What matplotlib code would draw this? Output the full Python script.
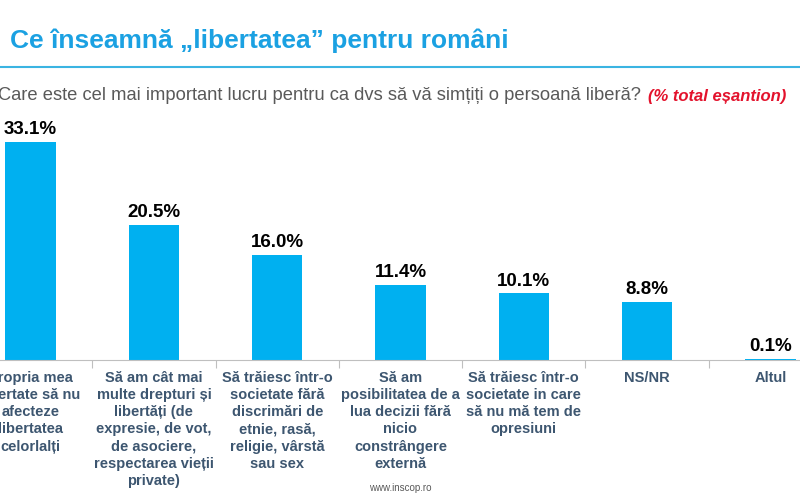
import matplotlib.pyplot as plt

plt.rcParams['font.family'] = ['Liberation Sans', 'DejaVu Sans']

categories = [
    'Propria mea\nlibertate să nu\nafecteze\nlibertatea\ncelorlalți',
    'Să am cât mai\nmulte drepturi și\nlibertăți (de\nexpresie, de vot,\nde asociere,\nrespectarea vieții\nprivate)',
    'Să trăiesc într-o\nsocietate fără\ndiscrimări de\netnie, rasă,\nreligie, vârstă\nsau sex',
    'Să am\nposibilitatea de a\nlua decizii fără\nnicio\nconstrângere\nexternă',
    'Să trăiesc într-o\nsocietate in care\nsă nu mă tem de\nopresiuni',
    'NS/NR',
    'Altul',
]
values = [33.1, 20.5, 16.0, 11.4, 10.1, 8.8, 0.1]

title = 'Ce înseamnă „libertatea” pentru români'
question = 'Care este cel mai important lucru pentru ca dvs să vă simțiți o persoană liberă?'
note = '(% total eșantion)'

bar_color = '#00b0f0'
label_color = '#3d5670'

fig = plt.figure(figsize=(8, 5), dpi=100)

# header
fig.text(0.0125, 0.918, title, fontsize=19, fontweight='bold', color='#1ba1e2', va='center')
fig.add_artist(plt.Line2D([0, 1], [0.866, 0.866], color='#3ab4e2', lw=1.5))
q = fig.text(-0.002, 0.808, question, fontsize=13.2, color='#595959', va='center')
fig.canvas.draw()
bb = q.get_window_extent()
fig.text(bb.x1 / 800 + 0.008, 0.808, note, fontsize=12, color='#e3122c',
         fontweight='bold', fontstyle='italic', va='center')

# axes extend past the figure edges (chart is cropped on the left)
ax = fig.add_axes([-0.03875, 0.28, 1.07875, 0.527])
x = list(range(len(values)))
ax.bar(x, values, width=0.41, color=bar_color, zorder=2)
ax.set_xlim(-0.5, len(values) - 0.5)
ax.set_ylim(0, 40)
for xi, v in zip(x, values):
    ax.text(xi, v + 0.6, f'{v:.1f}%', ha='center', va='bottom',
            fontsize=13.5, fontweight='bold', color='black')
for s in ['top', 'right', 'left']:
    ax.spines[s].set_visible(False)
ax.spines['bottom'].set_color('#bfbfbf')
ax.set_yticks([])
ax.set_xticks([i + 0.5 for i in range(-1, len(values))])
ax.set_xticklabels([])
ax.tick_params(axis='x', length=6, color='#bfbfbf', direction='out')
for xi, c in zip(x, categories):
    ax.text(xi, -1.6, c, ha='center', va='top', fontsize=10.5, fontweight='bold',
            color=label_color, linespacing=1.3)

fig.text(0.5, 0.024, 'www.inscop.ro', fontsize=7, color='#595959', ha='center', va='center')

fig.savefig('out.png', dpi=100)
